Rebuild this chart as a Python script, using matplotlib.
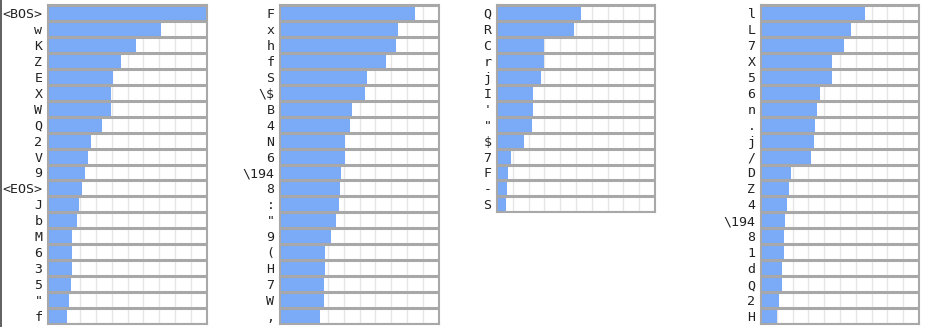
import matplotlib
matplotlib.use('Agg')
import matplotlib.pyplot as plt
from matplotlib.lines import Line2D

# данные: символы и вероятности по четырём панелям
labels1 = ['<BOS>', 'w', 'K', 'Z', 'E', 'X', 'W', 'Q', '2', 'V', '9', '<EOS>',
           'J', 'b', 'M', '6', '3', '5', '"', 'f']
values1 = [1.0, 0.709, 0.551, 0.457, 0.407, 0.394, 0.394, 0.338, 0.268, 0.249,
           0.231, 0.212, 0.193, 0.180, 0.149, 0.149, 0.149, 0.143, 0.130, 0.117]

labels2 = ['F', 'x', 'h', 'f', 'S', r'\\$', 'B', '4', 'N', '6', r'\194', '8',
           ':', '"', '9', '(', 'H', '7', 'W', ',']
values2 = [0.847, 0.740, 0.727, 0.665, 0.545, 0.532, 0.451, 0.438, 0.407, 0.407,
           0.382, 0.375, 0.369, 0.350, 0.319, 0.281, 0.281, 0.275, 0.275, 0.249]

labels3 = ['Q', 'R', 'C', 'r', 'j', 'I', "'", '"', '$', '7', 'F', '-', 'S']
values3 = [0.532, 0.487, 0.298, 0.298, 0.279, 0.229, 0.229, 0.223, 0.172,
           0.090, 0.071, 0.065, 0.059]

labels4 = ['l', 'L', '7', 'X', '5', '6', 'n', '.', 'j', '/', 'D', 'Z', '4',
           r'\194', '8', '1', 'd', 'Q', '2', 'H']
values4 = [0.658, 0.569, 0.525, 0.450, 0.450, 0.374, 0.355, 0.342, 0.336, 0.317,
           0.191, 0.179, 0.166, 0.153, 0.147, 0.147, 0.134, 0.134, 0.116, 0.103]

W, H = 931, 327
ROW = 15.95
BAR = '#7baaf7'
GRAY = '#a8a8a8'

fig = plt.figure(figsize=(W / 100, H / 100), dpi=100)
fig.patch.set_facecolor('white')


def panel(x0, x1, labels, values):
    n = len(labels)
    top = 5
    bottom = top + n * ROW
    ax = fig.add_axes([x0 / W, 1 - bottom / H, (x1 - x0) / W, (bottom - top) / H])
    ys = list(range(n))
    ax.barh(ys, values, height=1.0, color=BAR, zorder=2)
    ax.set_xlim(0, 1)
    ax.set_ylim(n - 0.5, -0.5)
    for k in range(11):
        ax.axvline(k / 10, color='#e6e6e6', linewidth=1, zorder=1)
    for k in range(n + 1):
        ax.axhline(k - 0.5, color=GRAY, linewidth=2.2, zorder=3)
    ax.set_yticks(ys)
    ax.set_yticklabels(labels, family='DejaVu Sans Mono', fontsize=9.5, color='#222222')
    ax.tick_params(axis='y', length=0, pad=4)
    ax.set_xticks([])
    for s in ax.spines.values():
        s.set_color(GRAY)
        s.set_linewidth(1.5)
    return ax


panel(48, 207, labels1, values1)
panel(280, 439, labels2, values2)
panel(497, 655, labels3, values3)
panel(761, 919, labels4, values4)

fig.add_artist(Line2D([0.5 / W, 0.5 / W], [0, 1], color='#444444', linewidth=1.2))

fig.savefig('out.png', dpi=100)
